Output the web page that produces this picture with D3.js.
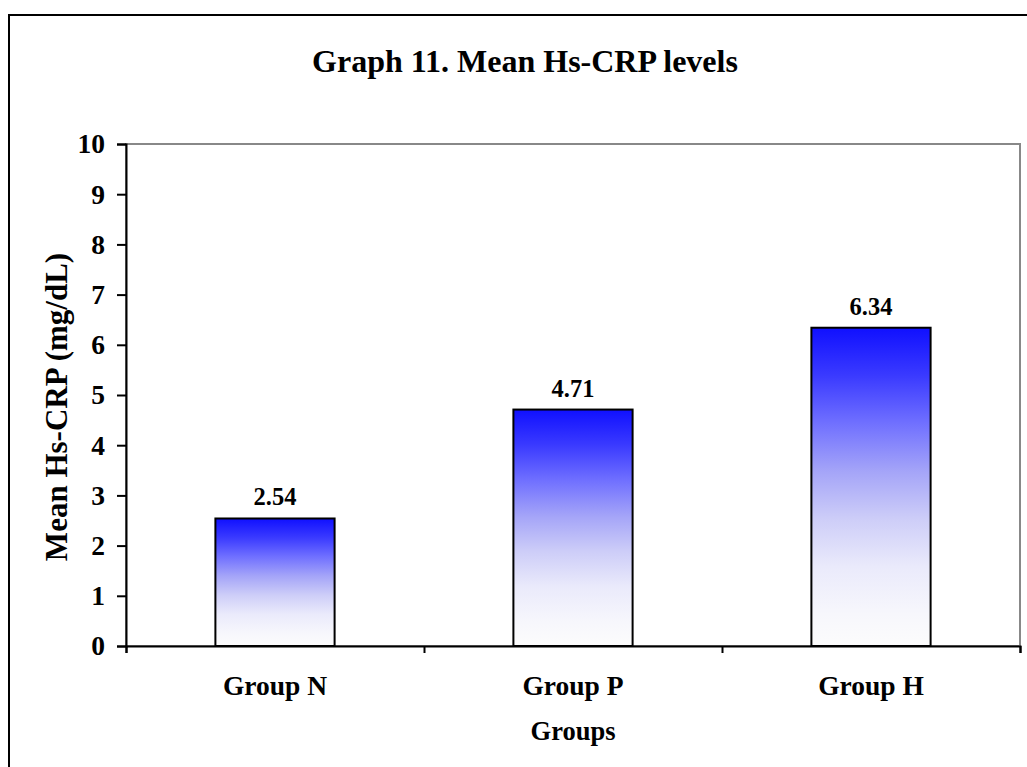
<!DOCTYPE html>
<html>
<head>
<meta charset="utf-8">
<script src="https://cdn.jsdelivr.net/npm/d3@7"></script>
<style>
  html, body { margin: 0; padding: 0; background: #fff; }
  svg { display: block; font-family: "Liberation Serif", "Times New Roman", serif; font-weight: bold; }
</style>
</head>
<body>
<svg id="chart" width="1027" height="767"></svg>
<script>
// Mean Hs-CRP per study group
const categories = ["Group N", "Group P", "Group H"];
const meanHsCRP = [2.54, 4.71, 6.34];
const yTicks = [0, 1, 2, 3, 4, 5, 6, 7, 8, 9, 10];

const svg = d3.select("#chart");
const W = 1027, H = 767;
const plot = { left: 126, right: 1020, top: 144, bottom: 646 };

svg.append("rect").attr("width", W).attr("height", H).attr("fill", "#fff");

// outer chart frame (runs past the right and bottom edges)
svg.append("rect")
  .attr("x", 9).attr("y", 15)
  .attr("width", 1040).attr("height", 800)
  .attr("fill", "none").attr("stroke", "#000").attr("stroke-width", 2);

// vertical gradient for the bars: saturated blue at the top fading to white
const defs = svg.append("defs");
const grad = defs.append("linearGradient")
  .attr("id", "barFill").attr("x1", 0).attr("y1", 0).attr("x2", 0).attr("y2", 1);
[[0, "#1010ff"], [0.15, "#3a3aff"], [0.3, "#7070ff"], [0.45, "#a4a4f8"],
 [0.6, "#cdcdf8"], [0.75, "#eaeafb"], [0.9, "#f7f7fc"], [1, "#fcfcfc"]]
  .forEach(([o, c]) => grad.append("stop").attr("offset", o).attr("stop-color", c));

const x = d3.scaleBand().domain(categories).range([plot.left, plot.right]).padding(0);
const y = d3.scaleLinear().domain([0, 10]).range([plot.bottom, plot.top]);
const barW = x.bandwidth() * 0.4;

// plot area border (grey top/right)
svg.append("rect")
  .attr("x", plot.left).attr("y", plot.top)
  .attr("width", plot.right - plot.left).attr("height", plot.bottom - plot.top)
  .attr("fill", "none").attr("stroke", "#888").attr("stroke-width", 2);

// bars
svg.append("g").selectAll("rect")
  .data(categories.map((c, i) => ({ c, v: meanHsCRP[i] })))
  .join("rect")
  .attr("x", d => x(d.c) + (x.bandwidth() - barW) / 2)
  .attr("y", d => y(d.v))
  .attr("width", barW)
  .attr("height", d => y(0) - y(d.v))
  .attr("fill", "url(#barFill)")
  .attr("stroke", "#000").attr("stroke-width", 2);

// value labels
svg.append("g").selectAll("text")
  .data(categories.map((c, i) => ({ c, v: meanHsCRP[i] })))
  .join("text")
  .attr("x", d => x(d.c) + x.bandwidth() / 2)
  .attr("y", d => y(d.v) - 13)
  .attr("text-anchor", "middle")
  .attr("font-size", 24.5)
  .text(d => d.v.toFixed(2));

// y axis
const yAxis = svg.append("g")
  .attr("transform", `translate(${plot.left},0)`)
  .call(d3.axisLeft(y).tickValues(yTicks).tickSize(9).tickPadding(12).tickFormat(d3.format("d")));
yAxis.select(".domain").attr("stroke", "#000").attr("stroke-width", 2);
yAxis.selectAll(".tick line").attr("stroke", "#000").attr("stroke-width", 2);
yAxis.selectAll(".tick text")
  .attr("font-family", "Liberation Serif").attr("font-weight", "bold")
  .attr("font-size", 27.5).attr("fill", "#000");

// x axis: tick marks at category boundaries
const xEdge = d3.scaleLinear().domain([0, categories.length]).range([plot.left, plot.right]);
const xAxisEdges = svg.append("g")
  .attr("transform", `translate(0,${plot.bottom})`)
  .call(d3.axisBottom(xEdge).tickValues(d3.range(categories.length + 1)).tickSize(7).tickFormat(""));
xAxisEdges.select(".domain").attr("stroke", "#000").attr("stroke-width", 2);
xAxisEdges.selectAll(".tick line").attr("stroke", "#000").attr("stroke-width", 2);

// x axis: category labels
const xAxisLabels = svg.append("g")
  .attr("transform", `translate(0,${plot.bottom})`)
  .call(d3.axisBottom(x).tickSize(0).tickPadding(29));
xAxisLabels.select(".domain").remove();
xAxisLabels.selectAll(".tick text")
  .attr("font-family", "Liberation Serif").attr("font-weight", "bold")
  .attr("font-size", 27.5).attr("fill", "#000");

// title
svg.append("text")
  .attr("x", (plot.left + plot.right) / 2 - 48).attr("y", 72)
  .attr("text-anchor", "middle").attr("font-size", 32)
  .text("Graph 11. Mean Hs-CRP levels");

// axis titles
svg.append("text")
  .attr("x", (plot.left + plot.right) / 2).attr("y", 740)
  .attr("text-anchor", "middle").attr("font-size", 26.5)
  .text("Groups");

svg.append("text")
  .attr("transform", "translate(67,407) rotate(-90)")
  .attr("text-anchor", "middle").attr("font-size", 31)
  .text("Mean Hs-CRP (mg/dL)");
</script>
</body>
</html>
